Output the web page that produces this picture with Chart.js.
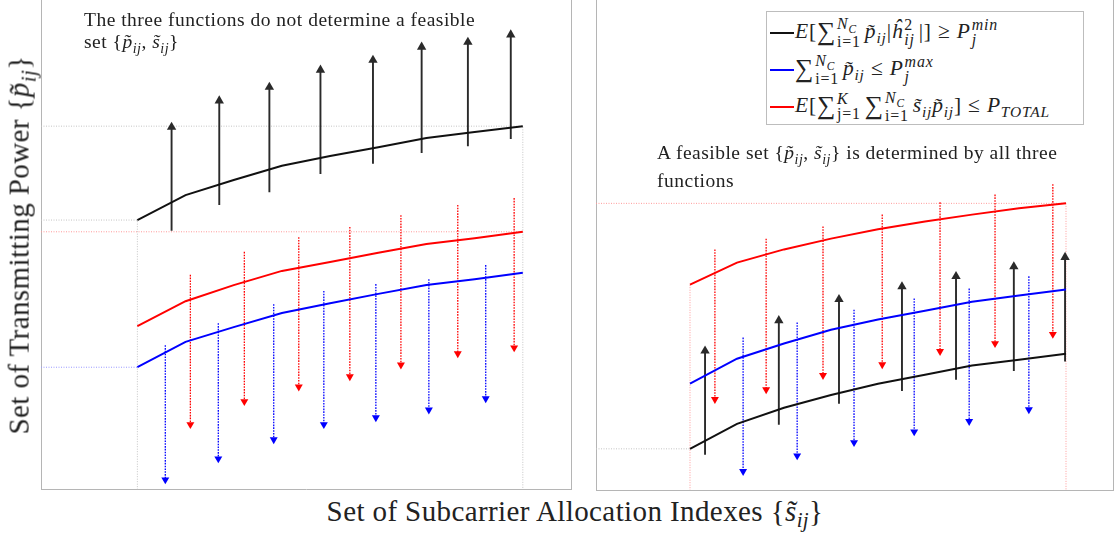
<!doctype html>
<html>

<head>
  <title>Feasible set of transmitting power</title>
  <script src="https://cdn.jsdelivr.net/npm/chart.js@4.4.0/dist/chart.umd.min.js"></script>
  <style>
  body { margin: 0; background: #fff; }
  #page { position: relative; width: 1119px; height: 536px; overflow: hidden;
          font-family: "Liberation Serif", "DejaVu Serif", serif; color: #222; }
  canvas { position: absolute; top: 0; }
  .note { position: absolute; font-size: 19.5px; letter-spacing: 0.5px; line-height: 22px; white-space: nowrap; }
  .title { position: absolute; font-size: 29px; letter-spacing: 0.4px; white-space: nowrap; transform: translate(-50%, -50%); }
  #ytitle { transform: translate(-50%, -50%) rotate(-90deg); }
  #legend { position: absolute; left: 766px; top: 11px; width: 316px; height: 112px;
            border: 1px solid #bdbdbd; background: #fff; font-size: 21.5px; letter-spacing: 0.8px; }
  #legend .row { position: absolute; left: 3px; height: 36px; display: flex; align-items: center; white-space: nowrap; }
  #legend .swatch { display: inline-block; width: 24px; height: 2px; margin-right: 1px; }
  .sum { font-size: 1.2em; line-height: 1; vertical-align: -0.08em; }
  .ss { display: inline-flex; flex-direction: column; vertical-align: middle; font-size: 0.74em; line-height: 0.92; margin: 0 4px 0 1px; }
  sub { font-size: 0.72em; }
  </style>
</head>

<body>
  <div id="page">
    <canvas id="leftPanel" width="534" height="491" style="left:39px"></canvas>
    <canvas id="rightPanel" width="521" height="492" style="left:594px"></canvas>
    <div class="note" style="left:84px; top:9px">The three functions do not determine a feasible<br>set {<i>p&#771;</i><sub><i>ij</i></sub>, <i>s&#771;</i><sub><i>ij</i></sub>}</div>
    <div class="note" style="left:657px; top:142px">A feasible set {<i>p&#771;</i><sub><i>ij</i></sub>, <i>s&#771;</i><sub><i>ij</i></sub>} is determined by all three<br>functions</div>
    <div id="legend"></div>
    <div class="title" id="ytitle" style="left:22px; top:245px">Set of Transmitting Power {<i>p&#771;</i><sub><i>ij</i></sub>}</div>
    <div class="title" style="left:575px; top:514px">Set of Subcarrier Allocation Indexes {<i>s&#771;</i><sub><i>ij</i></sub>}</div>
  </div>
  <script>
  // subcarrier index positions of the curve points
  var idx = [0, 1, 2, 3, 4, 5, 6, 7, 8];

  // left panel: no feasible set
  var leftMin = [5.50, 6.01, 6.32, 6.61, 6.81, 6.99, 7.18, 7.30, 7.42];
  var leftTotal = [3.33, 3.84, 4.17, 4.46, 4.64, 4.83, 5.01, 5.13, 5.26];
  var leftMax = [2.49, 3.01, 3.31, 3.60, 3.80, 3.99, 4.17, 4.29, 4.42];
  var leftUpX = [0.71, 1.70, 2.74, 3.80, 4.89, 5.90, 6.86, 7.75];
  var leftUpFrom = [5.28, 5.81, 6.07, 6.44, 6.65, 6.87, 7.01, 7.16];
  var leftUpTo = [7.40, 7.94, 8.22, 8.57, 8.77, 9.04, 9.14, 9.29];
  var leftRedX = [1.10, 2.22, 3.35, 4.41, 5.47, 6.65, 7.82];
  var leftRedFrom = [4.38, 4.85, 5.15, 5.36, 5.60, 5.81, 5.95];
  var leftRedTo = [1.32, 1.79, 2.09, 2.30, 2.54, 2.77, 2.89];
  var leftBlueX = [0.58, 1.68, 2.83, 3.87, 4.95, 6.05, 7.23];
  var leftBlueFrom = [2.94, 3.39, 3.78, 4.05, 4.19, 4.29, 4.58];
  var leftBlueTo = [0.19, 0.62, 1.01, 1.32, 1.46, 1.62, 1.85];

  // right panel: feasible set
  var rightTotal = [4.19, 4.64, 4.91, 5.13, 5.32, 5.48, 5.62, 5.75, 5.85];
  var rightMax = [2.17, 2.68, 2.99, 3.27, 3.48, 3.66, 3.84, 3.97, 4.09];
  var rightMin = [0.84, 1.35, 1.68, 1.94, 2.17, 2.35, 2.54, 2.66, 2.78];
  var rightUpX = [0.32, 1.89, 3.17, 4.51, 5.66, 6.89, 7.98];
  var rightUpFrom = [0.72, 1.33, 1.76, 2.02, 2.25, 2.43, 2.62];
  var rightUpTo = [2.84, 3.46, 3.89, 4.15, 4.36, 4.56, 4.75];
  var rightRedX = [0.53, 1.62, 2.83, 4.09, 5.32, 6.49, 7.72];
  var rightRedFrom = [4.91, 5.13, 5.38, 5.62, 5.87, 6.03, 6.24];
  var rightRedTo = [1.85, 2.05, 2.34, 2.56, 2.83, 2.99, 3.18];
  var rightBlueX = [1.13, 2.28, 3.49, 4.77, 5.94, 7.21];
  var rightBlueFrom = [3.11, 3.42, 3.68, 3.91, 4.11, 4.36];
  var rightBlueTo = [0.38, 0.70, 0.97, 1.19, 1.40, 1.64];

  var seriesColors = ['#111111', '#0000ff', '#ff0000'];
  var sumNc = '<span class="sum">&sum;</span><span class="ss"><span><i>N</i><sub><i>C</i></sub></span><span>i=1</span></span>';
  var seriesLabels = [
    '<i>E</i>[' + sumNc + '<i>p&#771;</i><sub><i>ij</i></sub>|<i>&#293;</i><span class="ss"><span>2</span><span><i>ij</i></span></span>|] &ge; <i>P</i><span class="ss"><span><i>min</i></span><span><i>j</i></span></span>',
    sumNc + '<i>p&#771;</i><sub><i>ij</i></sub> &le; <i>P</i><span class="ss"><span><i>max</i></span><span><i>j</i></span></span>',
    '<i>E</i>[<span class="sum">&sum;</span><span class="ss"><span><i>K</i></span><span>j=1</span></span>' + sumNc + '<i>s&#771;</i><sub><i>ij</i></sub><i>p&#771;</i><sub><i>ij</i></sub>] &le; <i>P</i><sub><i>TOTAL</i></sub>'
  ];
  var arrowBlack = '#2a2a2a';
  var guideGray = '#c4c4c4', guideRed = '#ff9a9a', guideBlue = '#9a9aff';
  var frameColor = '#b5b5b5';

  function curve(values, color) {
    return {
      data: idx.map(function(x, i) { return {x: x, y: values[i]}; }),
      borderColor: color, borderWidth: 2, pointRadius: 0, tension: 0
    };
  }

  // each arrow is a two point segment, split from the next one by a gap
  function arrows(xs, from, to, color, dotted) {
    var pts = [];
    xs.forEach(function(x, i) {
      pts.push({x: x, y: from[i]}, {x: x, y: to[i]}, {x: x, y: null});
    });
    return {
      data: pts,
      borderColor: color, backgroundColor: color,
      borderWidth: dotted ? 1.3 : 1.9,
      borderDash: dotted ? [1.6, 1.2] : [],
      spanGaps: false,
      pointStyle: 'triangle',
      pointRotation: from[0] > to[0] ? 180 : 0,
      pointBorderWidth: 0,
      pointRadius: function(c) { return c.dataIndex % 3 === 1 ? (dotted ? 4.6 : 5.4) : 0; }
    };
  }

  function guide(points, color) {
    return {
      data: points, borderColor: color, borderWidth: 1,
      borderDash: [1, 1.5], pointRadius: 0, tension: 0
    };
  }

  var axisOpts = function(pos, min, max) {
    return {
      type: 'linear', position: pos, min: min, max: max,
      ticks: {display: false}, grid: {display: false},
      border: {display: true, color: frameColor, width: 1},
      // no ticks or labels, so the axis should take no room
      afterFit: function(s) {
        if (s.isHorizontal()) s.height = 0; else s.width = 0;
      }
    };
  };

  function panel(id, datasets) {
    return new Chart(document.getElementById(id), {
      type: 'line',
      data: {datasets: datasets},
      options: {
        responsive: false,
        animation: false,
        events: [],
        layout: {padding: {top: 0, left: 2, right: 2, bottom: 2}},
        plugins: {legend: {display: false}, tooltip: {enabled: false}},
        scales: {
          x: axisOpts('bottom', -2, 9),
          y: axisOpts('left', 0, 10),
          y2: axisOpts('right', 0, 10)
        }
      }
    });
  }

  var last = idx[idx.length - 1];

  panel('leftPanel', [
    curve(leftMin, seriesColors[0]),
    curve(leftTotal, seriesColors[2]),
    curve(leftMax, seriesColors[1]),
    arrows(leftUpX, leftUpFrom, leftUpTo, arrowBlack, false),
    arrows(leftRedX, leftRedFrom, leftRedTo, seriesColors[2], true),
    arrows(leftBlueX, leftBlueFrom, leftBlueTo, seriesColors[1], true),
    guide([{x: -2, y: leftMin[8]}, {x: last, y: leftMin[8]}, {x: last, y: 0}], guideGray),
    guide([{x: -2, y: leftMin[0]}, {x: 0, y: leftMin[0]}, {x: 0, y: 0}], guideGray),
    guide([{x: -2, y: leftTotal[8]}, {x: last, y: leftTotal[8]}], guideRed),
    guide([{x: -2, y: leftMax[0]}, {x: 0, y: leftMax[0]}], guideBlue)
  ]);

  panel('rightPanel', [
    curve(rightTotal, seriesColors[2]),
    curve(rightMax, seriesColors[1]),
    curve(rightMin, seriesColors[0]),
    arrows(rightUpX, rightUpFrom, rightUpTo, arrowBlack, false),
    arrows(rightRedX, rightRedFrom, rightRedTo, seriesColors[2], true),
    arrows(rightBlueX, rightBlueFrom, rightBlueTo, seriesColors[1], true),
    guide([{x: -2, y: rightTotal[8]}, {x: last, y: rightTotal[8]}, {x: last, y: 0}], guideRed),
    guide([{x: 0, y: rightTotal[0]}, {x: 0, y: 0}], guideRed),
    guide([{x: -2, y: rightMin[0]}, {x: 0, y: rightMin[0]}], guideGray)
  ]);

  // legend in the right panel
  var legend = document.getElementById('legend');
  seriesLabels.forEach(function(label, i) {
    var row = document.createElement('div');
    row.className = 'row';
    row.style.top = (3 + i * 37) + 'px';
    row.innerHTML = '<span class="swatch" style="background:' + seriesColors[i] + '"></span><span>' + label + '</span>';
    legend.appendChild(row);
  });
  </script>
</body>

</html>
